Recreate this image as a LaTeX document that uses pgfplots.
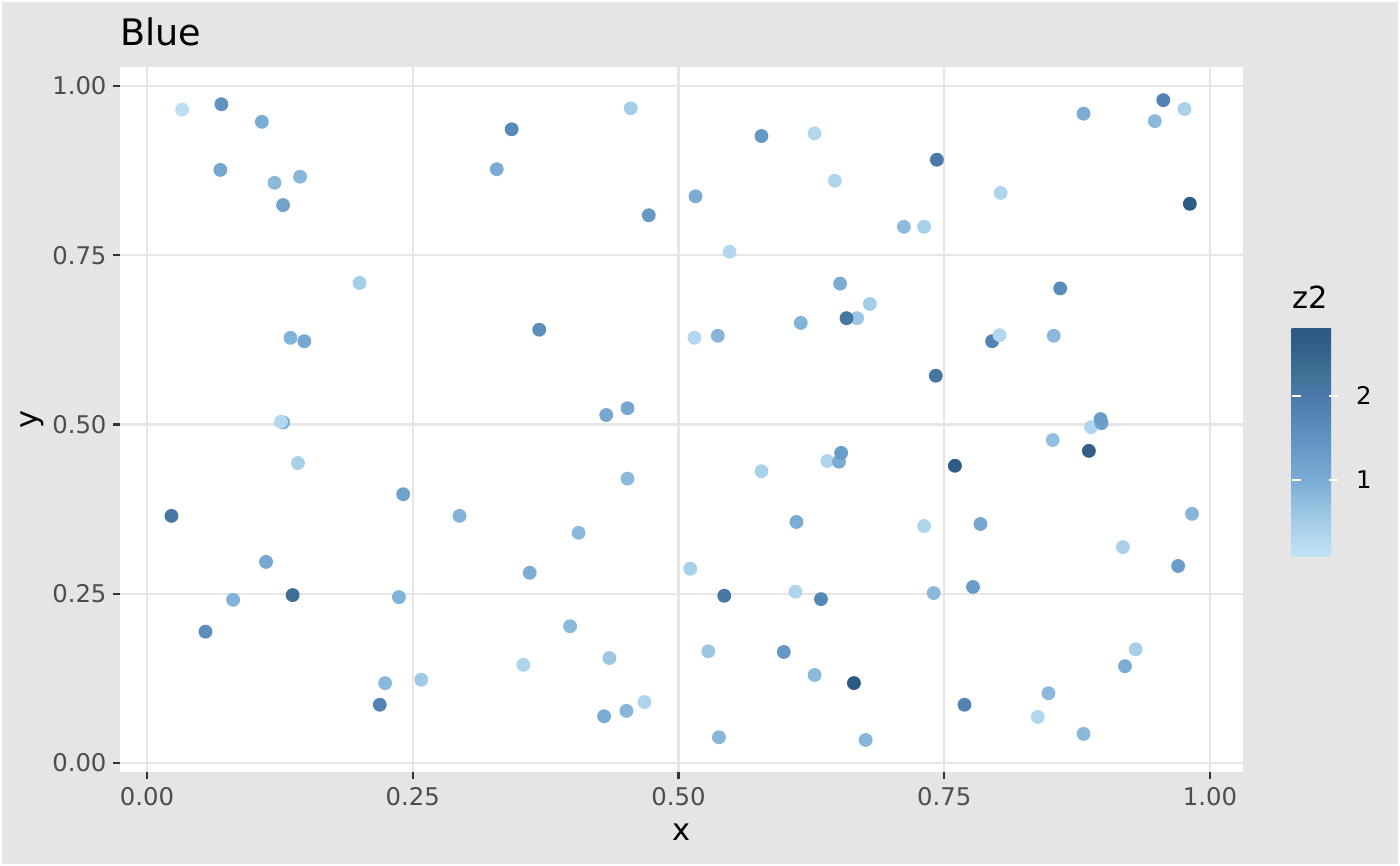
\documentclass[border=0pt]{standalone}
\usepackage{pgfplots}
\pgfplotsset{compat=1.18}
\usepackage{pgfplotstable}
\usepackage{fontspec}
\setmainfont{DejaVu Sans}
\definecolor{bggray}{RGB}{229,229,229}
\definecolor{gridgray}{RGB}{230,230,230}
\definecolor{tickgray}{RGB}{51,51,51}
\definecolor{labgray}{RGB}{77,77,77}
\pgfplotstableread{
x y z
0.033 0.965 0.15
0.070 0.973 1.5
0.108 0.947 1.0
0.069 0.876 1.1
0.120 0.857 0.8
0.144 0.866 0.85
0.128 0.824 1.2
0.200 0.709 0.5
0.135 0.628 0.9
0.148 0.623 1.1
0.128 0.503 1.0
0.126 0.504 0.3
0.142 0.443 0.45
0.241 0.397 1.2
0.294 0.365 0.9
0.023 0.365 2.1
0.112 0.297 1.1
0.137 0.248 2.3
0.081 0.241 0.9
0.055 0.194 1.6
0.237 0.245 0.9
0.224 0.118 0.8
0.258 0.123 0.55
0.219 0.086 1.8
0.329 0.877 1.0
0.455 0.967 0.5
0.343 0.936 1.7
0.472 0.809 1.4
0.369 0.640 1.6
0.432 0.514 1.1
0.452 0.524 1.1
0.578 0.926 1.4
0.628 0.930 0.3
0.647 0.860 0.35
0.516 0.837 1.0
0.548 0.755 0.3
0.652 0.708 1.0
0.680 0.678 0.5
0.668 0.657 0.6
0.658 0.657 2.1
0.615 0.650 0.9
0.515 0.628 0.3
0.537 0.631 0.85
0.956 0.979 1.8
0.976 0.966 0.4
0.881 0.959 1.0
0.948 0.948 0.8
0.743 0.891 2.0
0.803 0.842 0.35
0.981 0.826 2.7
0.712 0.792 0.75
0.731 0.792 0.45
0.859 0.701 1.6
0.795 0.623 1.8
0.802 0.632 0.3
0.853 0.631 0.8
0.742 0.572 2.1
0.452 0.420 0.8
0.406 0.340 0.8
0.360 0.281 1.0
0.398 0.202 0.8
0.354 0.145 0.35
0.435 0.155 0.6
0.430 0.069 1.0
0.451 0.077 0.85
0.468 0.090 0.35
0.640 0.446 0.35
0.651 0.445 1.0
0.653 0.458 1.3
0.578 0.431 0.4
0.611 0.356 1.0
0.511 0.287 0.45
0.543 0.247 2.1
0.610 0.253 0.35
0.634 0.242 1.7
0.528 0.165 0.6
0.599 0.164 1.4
0.628 0.130 0.8
0.665 0.118 2.8
0.538 0.038 0.85
0.676 0.034 0.85
0.888 0.496 0.35
0.898 0.502 1.2
0.897 0.508 1.3
0.852 0.477 0.7
0.886 0.461 2.6
0.760 0.439 2.7
0.983 0.368 0.85
0.731 0.350 0.35
0.784 0.353 1.1
0.918 0.319 0.45
0.970 0.291 1.3
0.740 0.251 0.8
0.777 0.260 1.3
0.930 0.168 0.45
0.920 0.143 1.0
0.848 0.103 0.8
0.769 0.086 1.8
0.838 0.068 0.3
0.881 0.043 0.8
}\pts
\begin{document}
\begin{tikzpicture}
\fill[bggray] (0,0) rectangle (504bp,311.76bp);
\draw[white, line width=0.7bp] (0.35bp,0.35bp) rectangle (503.65bp,311.41bp);
\begin{axis}[
  at={(43.2bp,33.84bp)}, anchor=south west,
  scale only axis, width=404.28bp, height=253.8bp,
  xmin=-0.0254, xmax=1.031, ymin=-0.0133, ymax=1.028,
  axis background/.style={fill=white},
  axis line style={draw=none},
  grid=major, major grid style={color=gridgray, line width=0.85bp},
  xtick={0,0.25,0.5,0.75,1}, ytick={0,0.25,0.5,0.75,1},
  xticklabels={0.00,0.25,0.50,0.75,1.00},
  yticklabels={0.00,0.25,0.50,0.75,1.00},
  xtick pos=bottom, ytick pos=left,
  tick align=outside, major tick length=2.5bp,
  tick style={color=tickgray, line width=0.8bp},
  ticklabel style={font=\fontsize{8.8}{10}\selectfont, text=labgray},
  xticklabel style={anchor=north, inner sep=0pt, yshift=-2.9bp},
  yticklabel style={anchor=east, inner sep=0pt, xshift=-2.16bp},
  title={Blue},
  title style={at={(axis description cs:0,1.0071)}, anchor=base west, inner sep=0pt, font=\fontsize{13.2}{15}\selectfont},
  xlabel={x},
  xlabel style={at={(axis description cs:0.5,-0.0851)}, anchor=center, font=\fontsize{11}{13}\selectfont},
  ylabel={y},
  ylabel style={at={(axis description cs:-0.0784,0.5)}, anchor=center, font=\fontsize{11}{13}\selectfont},
  colormap={zblue}{rgb255(0pt)=(195,227,244); rgb255(42pt)=(164,205,232); rgb255(92pt)=(122,172,212); rgb255(142pt)=(96,147,193); rgb255(192pt)=(74,121,170); rgb255(216pt)=(64,115,150); rgb255(242pt)=(52,99,140); rgb255(273pt)=(44,88,132)},
  point meta min=0.08, point meta max=2.81,
  colorbar,
  colorbar style={
    at={(456.48bp,193.68bp)}, anchor=north west, xshift=0pt, yshift=0pt,
    scale only axis, width=16.56bp, height=82.44bp,
    axis line style={draw=none},
    ytick={1,2}, yticklabels={1,2},
    ytick pos=both, yticklabel pos=right,
    tick align=inside, major tick length=3.24bp,
    tick style={color=white, line width=0.6bp},
    yticklabel style={font=\fontsize{8.8}{10}\selectfont, text=black, anchor=west, inner sep=0pt, xshift=6.5bp},
    title={z2},
    title style={at={(0,1)}, anchor=base west, inner sep=0pt, yshift=1.1bp, font=\fontsize{11}{13}\selectfont},
  },
]
\addplot[scatter, only marks, mark=*, mark size=2.3pt,
  scatter/use mapped color={draw=mapped color, fill=mapped color},
  point meta=explicit] table[x=x, y=y, meta=z]{\pts};
\end{axis}
\pgfresetboundingbox
\path[use as bounding box] (0,0) rectangle (504bp,311.76bp);
\end{tikzpicture}
\end{document}
